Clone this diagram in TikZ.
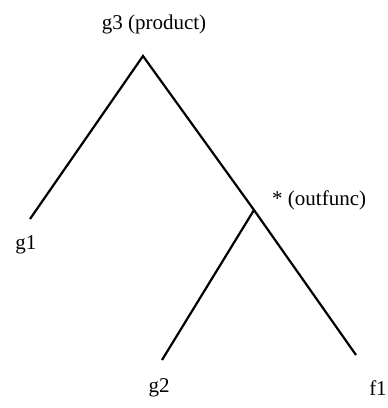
\documentclass[tikz,border=0pt]{standalone}
\usepackage{fontspec}
\setmainfont{Liberation Serif}
\begin{document}
\begin{tikzpicture}[x=1pt,y=-1pt,
  lbl/.style={inner sep=0pt,font=\fontsize{21}{25}\selectfont},
  edge/.style={line width=2.2pt,line cap=butt}]
\useasboundingbox (0,0) rectangle (388,408);
\coordinate (top) at (143,56);
\coordinate (j) at (254,210);
\coordinate (e1) at (30,219);
\coordinate (e2) at (162,360);
\coordinate (e3) at (356,355);
\node[lbl] (g3) at (154,24) {g3 (product)};
\node[lbl] (g1) at (26,245) {g1};
\node[lbl,anchor=west] (out) at (272,200) {* (outfunc)};
\node[lbl] (g2) at (159,388) {g2};
\node[lbl] (f1) at (378,388) {f1};
\draw[edge] (e1) -- (top) -- (j) -- (e3);
\draw[edge] (j) -- (e2);
\end{tikzpicture}
\end{document}
